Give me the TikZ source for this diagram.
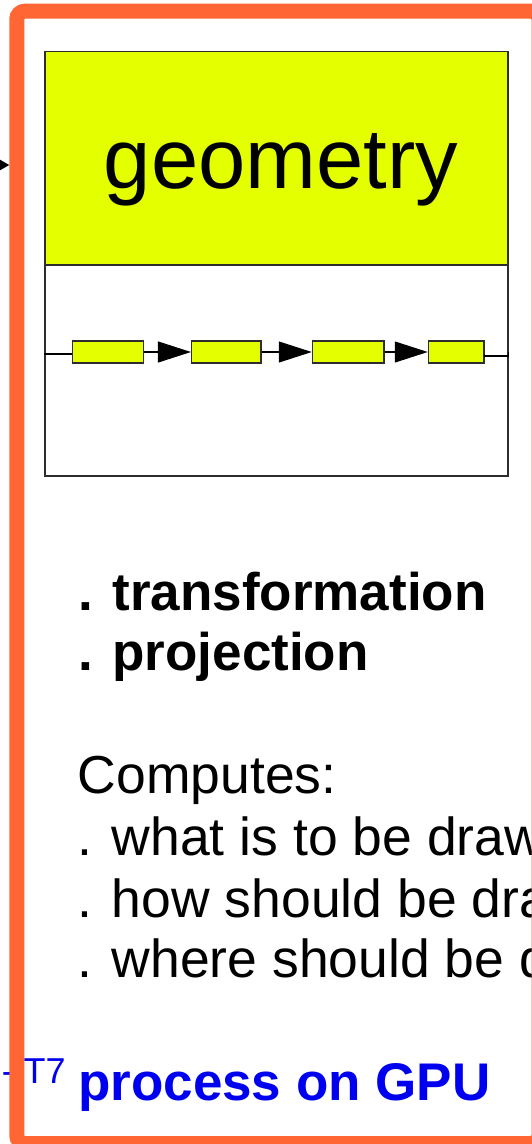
\documentclass[tikz,border=0pt]{standalone}
\usepackage{fontspec}
\setmainfont{Liberation Sans}
\usetikzlibrary{arrows.meta}
\definecolor{frameorange}{RGB}{255,102,51}
\definecolor{geoyellow}{RGB}{228,255,0}
\definecolor{boxgray}{RGB}{45,45,45}
\definecolor{textblue}{RGB}{0,0,240}
\tikzset{
  frame/.style={draw=frameorange, line width=15pt, rounded corners=8pt, minimum width=522.2pt, minimum height=1132.3pt, inner sep=0pt},
  geobox/.style={draw=boxgray, line width=1.4pt, fill=geoyellow, minimum width=463pt, minimum height=213.5pt, inner sep=0pt},
  lowbox/.style={draw=boxgray, line width=1.4pt, minimum width=463pt, minimum height=211pt, inner sep=0pt},
  chainbox/.style={draw=boxgray, line width=1.2pt, fill=geoyellow, minimum height=22pt, inner sep=0pt},
  chainline/.style={draw=black, line width=1.1pt},
  chainarrow/.style={chainline, -{Triangle[length=33pt,width=21pt]}},
  bodytext/.style={anchor=base west, inner sep=0pt, font=\fontsize{53.5}{61}\selectfont},
  boldtext/.style={bodytext, font=\fontsize{53}{61}\selectfont\bfseries},
}
\begin{document}
\begin{tikzpicture}[x=1pt,y=-1pt]
\useasboundingbox (0,0) rectangle (532,1144);
\clip (0,0) rectangle (532,1144);
% geometry block
\node[geobox] (geo) at (276.5,158.25) {};
\node[anchor=base, inner sep=0pt, font=\fontsize{85}{90}\selectfont] (geotxt) at (281,188) {geometry};
\node[lowbox] (low) at (276.5,370.5) {};
% chain of stages
\node[chainbox, minimum width=71pt] (b1) at (108.2,352) {};
\node[chainbox, minimum width=69.5pt] (b2) at (226.3,352) {};
\node[chainbox, minimum width=71.7pt] (b3) at (348.2,352) {};
\node[chainbox, minimum width=55.7pt] (b4) at (456.2,352) {};
\draw[chainline] (low.west |- b1.west) ++(0,2) -- ([yshift=-2pt]b1.west);
\draw[chainarrow] (b1.east) -- (b2.west);
\draw[chainarrow] (b2.east) -- (b3.west);
\draw[chainarrow] (b3.east) -- (b4.west);
\draw[chainline] ([yshift=-2pt]b4.east) -- ++(0,2) -| (low.east |- b4.east);
% texts
\node[boldtext] (t1) at (78,610) {. transformation};
\node[boldtext] (t2) at (78,670) {. projection};
\node[bodytext] (t3) at (77.5,793) {Computes:};
\node[bodytext] (t4) at (77,855) {. what is to be drawn};
\node[bodytext] (t5) at (77,917) {. how should be drawn};
\node[bodytext] (t6) at (77,977) {. where should be drawn};
\node[boldtext, text=textblue] (t7) at (78,1100) {process on GPU};
\node[anchor=base west, inner sep=0pt, text=textblue, font=\fontsize{36}{40}\selectfont] (sup) at (23.5,1083) {T7};
\node[anchor=base east, inner sep=0pt, text=textblue, font=\fontsize{36}{40}\selectfont] (pre) at (14,1083) {U-};
% frame
\node[frame] (fr) at (277.9,577.35) {};
\coordinate (src) at (-30,165);
\draw[line width=1.5pt, -{Triangle[length=10pt,width=11pt]}] (src) -- (fr.west |- src);
\end{tikzpicture}
\end{document}
